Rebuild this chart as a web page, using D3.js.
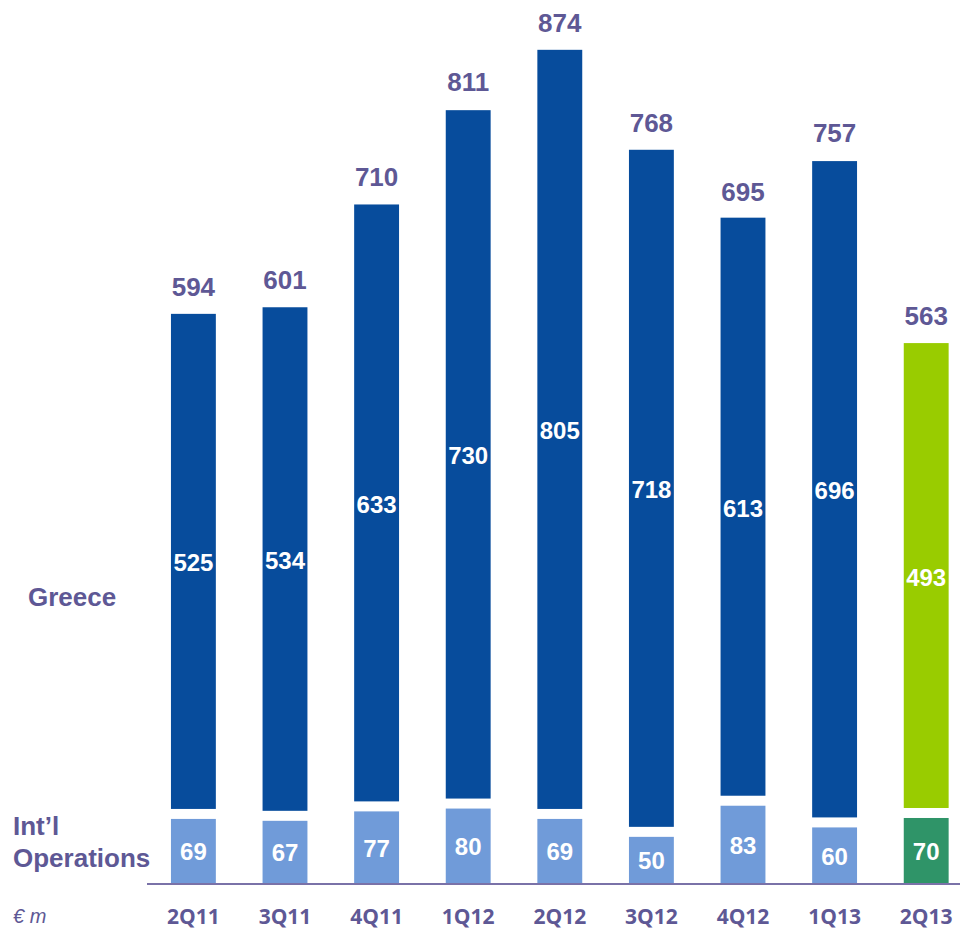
<!DOCTYPE html>
<html>
<head>
<meta charset="utf-8">
<script src="https://cdn.jsdelivr.net/npm/d3@7/dist/d3.min.js"></script>
<style>
  html, body { margin: 0; padding: 0; background: #ffffff; }
  svg { display: block; }
</style>
</head>
<body>
<svg id="chart" width="960" height="930"></svg>
<script>
// Quarterly figures, € m
const quarters = ["2Q11", "3Q11", "4Q11", "1Q12", "2Q12", "3Q12", "4Q12", "1Q13", "2Q13"];
const greece   = [525, 534, 633, 730, 805, 718, 613, 696, 493];
const intl     = [69, 67, 77, 80, 69, 50, 83, 60, 70];
const totals   = [594, 601, 710, 811, 874, 768, 695, 757, 563];

const svg = d3.select("#chart");
const TEXT = "#5e5895";
const GAP = 10; // white gap between the two stacked segments
const baseY = 884;

const x = d3.scaleBand()
  .domain(quarters)
  .range([147.6, 972])
  .paddingInner(0.51)
  .paddingOuter(0.255);

const y = d3.scaleLinear()
  .domain([0, 1000])
  .range([baseY, baseY - 943]);

const last = quarters[quarters.length - 1];
const colGreece = q => q === last ? "#99cc00" : "#074c9c";
const colIntl   = q => q === last ? "#2f9468" : "#709bd9";

const rows = quarters.map((q, i) => ({ q, g: greece[i], n: intl[i], t: totals[i] }));

// International operations segment
svg.append("g").selectAll("rect")
  .data(rows).join("rect")
  .attr("x", d => x(d.q))
  .attr("width", x.bandwidth())
  .attr("y", d => y(d.n))
  .attr("height", d => y(0) - y(d.n))
  .attr("fill", d => colIntl(d.q));

// Greece segment, stacked above with a white gap
svg.append("g").selectAll("rect")
  .data(rows).join("rect")
  .attr("x", d => x(d.q))
  .attr("width", x.bandwidth())
  .attr("y", d => y(d.n + d.g) - GAP)
  .attr("height", d => y(d.n) - y(d.n + d.g))
  .attr("fill", d => colGreece(d.q));

// Values inside the segments
const inner = svg.append("g")
  .attr("font-family", "Liberation Sans, Arial, sans-serif")
  .attr("font-weight", "bold")
  .attr("font-size", 24)
  .attr("fill", "#ffffff")
  .attr("text-anchor", "middle");

inner.selectAll("text.g")
  .data(rows).join("text")
  .attr("class", "g")
  .attr("x", d => x(d.q) + x.bandwidth() / 2)
  .attr("y", d => (y(d.n + d.g) + y(d.n)) / 2 - GAP + 10)
  .text(d => d.g);

inner.selectAll("text.n")
  .data(rows).join("text")
  .attr("class", "n")
  .attr("x", d => x(d.q) + x.bandwidth() / 2)
  .attr("y", d => (y(d.n) + y(0)) / 2 + 9)
  .text(d => d.n);

// Totals above the bars
svg.append("g")
  .attr("font-family", "Liberation Sans, Arial, sans-serif")
  .attr("font-weight", "bold")
  .attr("font-size", 26)
  .attr("fill", TEXT)
  .attr("text-anchor", "middle")
  .selectAll("text")
  .data(rows).join("text")
  .attr("x", d => x(d.q) + x.bandwidth() / 2)
  .attr("y", d => y(d.t) - GAP - 18)
  .text(d => d.t);

// Baseline and category axis
const axis = svg.append("g")
  .attr("transform", `translate(0,${baseY})`)
  .call(d3.axisBottom(x).tickSize(0).tickPadding(0));
axis.select(".domain")
  .attr("d", `M147,0H960`)
  .attr("stroke", "#7a72a8")
  .attr("stroke-width", 2);
axis.selectAll(".tick text")
  .attr("y", 40)
  .attr("dy", null)
  .attr("font-family", "Open Sans, sans-serif")
  .attr("font-weight", "bold")
  .attr("font-size", 21)
  .attr("fill", TEXT);

// Series names on the left
const side = svg.append("g")
  .attr("font-family", "Liberation Sans, Arial, sans-serif")
  .attr("font-weight", "bold")
  .attr("font-size", 26)
  .attr("fill", TEXT);
side.append("text").attr("x", 28).attr("y", 606).text("Greece");
side.append("text").attr("x", 13).attr("y", 835).text("Int\u2019l");
side.append("text").attr("x", 13).attr("y", 867).text("Operations");

svg.append("text")
  .attr("x", 13).attr("y", 923)
  .attr("font-family", "Liberation Sans, Arial, sans-serif")
  .attr("font-style", "italic")
  .attr("font-size", 20)
  .attr("fill", TEXT)
  .text("€ m");
</script>
</body>
</html>
